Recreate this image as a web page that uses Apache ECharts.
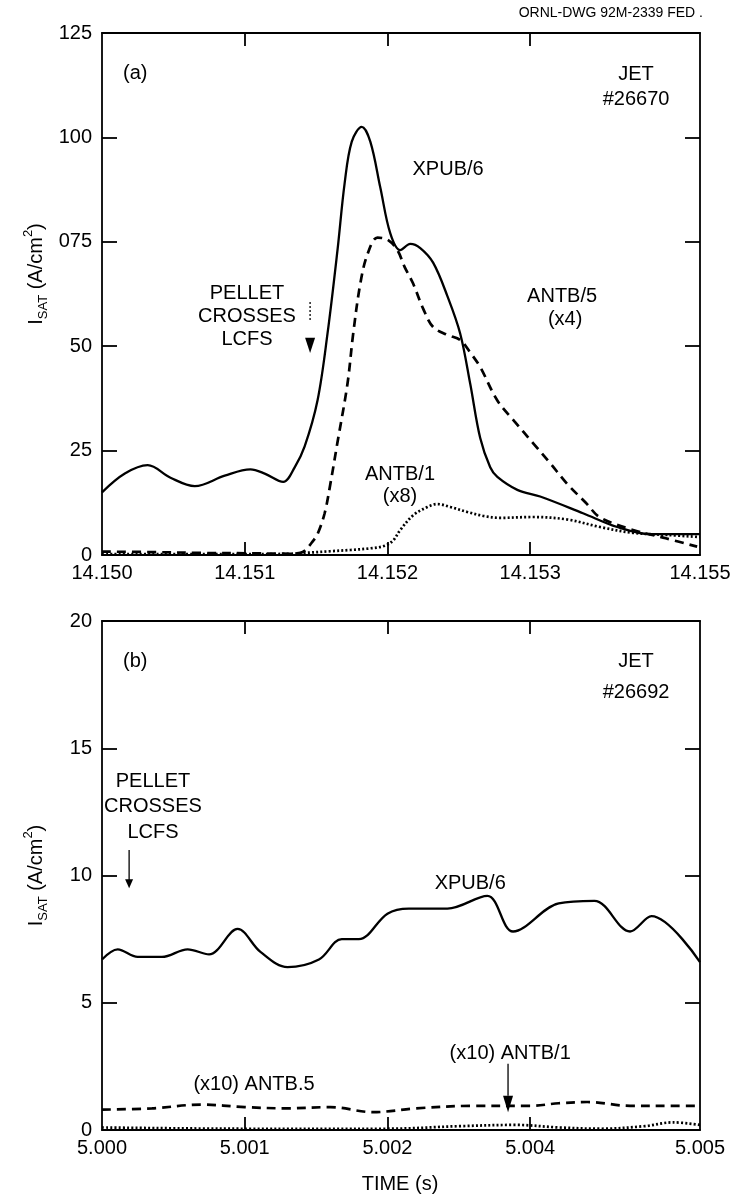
<!DOCTYPE html>
<html><head><meta charset="utf-8">
<script src="https://cdn.jsdelivr.net/npm/echarts@6/dist/echarts.min.js"></script>
<style>html,body{margin:0;padding:0;background:#fff}#c{width:737px;height:1201px}</style>
</head><body><div id="c"></div>
<script>
// ---------- Panel (a): JET #26670 ----------
const timeA_xpub = [14.15000,14.15016,14.15032,14.15048,14.15065,14.15086,14.15104,14.15114,14.15127,14.15135,14.15142,14.15151,14.15158,14.15165,14.15170,14.15175,14.15182,14.15188,14.15195,14.15202,14.15209,14.15216,14.15223,14.15232,14.15242,14.15251,14.15258,14.15265,14.15272,14.15277,14.15291,14.15307,14.15337,14.15361,14.15384,14.15419];
const xpubA = [15,19.5,21.5,18.5,16.5,19,20.5,19.5,17.5,21,26,37,53,73,89,99,102.5,99,88,77,73,74.5,73.5,70,62,53,41,28,21,18.7,15.6,14,10,6.7,5,5];
const timeA_antb5 = [14.15000,14.15034,14.15069,14.15104,14.15132,14.15139,14.15142,14.15147,14.15151,14.15156,14.15160,14.15165,14.15172,14.15176,14.15181,14.15186,14.15193,14.15200,14.15207,14.15212,14.15218,14.15225,14.15232,14.15242,14.15251,14.15258,14.15265,14.15277,14.15289,14.15302,14.15314,14.15326,14.15339,14.15349,14.15372,14.15395,14.15417];
const antb5A = [0.8,0.7,0.5,0.4,0.3,0.5,1,3,5,10,17,27,41,53,65,72,76,75.5,73,69,65,59,54.6,52.7,51.5,48.5,45,37,32,26.8,22,17,12.5,9,6,4,2];
const timeA_antb1 = [14.15000,14.15104,14.15132,14.15142,14.15160,14.15174,14.15188,14.15198,14.15204,14.15209,14.15218,14.15228,14.15235,14.15244,14.15256,14.15268,14.15279,14.15302,14.15326,14.15349,14.15372,14.15396,14.15419];
const antb1A = [0.2,0.2,0.3,0.5,0.9,1.2,1.6,2.2,3.5,6,9.5,11.5,12.2,11.5,10.3,9.3,8.9,9.1,8.5,6.7,5.3,4.8,4.3];

// ---------- Panel (b): JET #26692 ----------
const timeB_xpub = [5.00000,5.00011,5.00025,5.00042,5.00060,5.00075,5.00095,5.00111,5.00130,5.00152,5.00168,5.00180,5.00200,5.00215,5.00242,5.00270,5.00288,5.00320,5.00345,5.00370,5.00385,5.00419];
const xpubB = [6.7,7.1,6.8,6.8,7.1,6.9,7.9,7.0,6.4,6.7,7.5,7.5,8.5,8.7,8.7,9.2,7.8,8.9,9.0,7.8,8.4,6.6];
const timeB_antb5 = [5.00000,5.00035,5.00070,5.00100,5.00130,5.00160,5.00190,5.00220,5.00260,5.00300,5.00320,5.00340,5.00370,5.00400,5.00419];
const antb5B = [0.8,0.85,1.0,0.9,0.85,0.9,0.7,0.85,0.95,0.95,1.05,1.1,0.95,0.95,0.95];
const timeB_antb1 = [5.00000,5.00100,5.00200,5.00250,5.00290,5.00320,5.00350,5.00380,5.00400,5.00419];
const antb1B = [0.1,0.05,0.05,0.15,0.2,0.1,0.05,0.15,0.3,0.2];

// ---------- Axis ticks / labels ----------
const xLabelValsA = [14.150,14.151,14.152,14.153,14.15419];
const xLabelTextA = ['14.150','14.151','14.152','14.153','14.155'];
const xTickValsA = [14.151,14.152,14.153];
const xLabelValsB = [5.000,5.001,5.002,5.003,5.00419];
const xLabelTextB = ['5.000','5.001','5.002','5.004','5.005'];
const xTickValsB = [5.001,5.002,5.003];
const yTicksA = [0,25,50,75,100,125];
const yTextA = ['0','25','50','075','100','125'];
const yTicksB = [0,5,10,15,20];
const yTextB = ['0','5','10','15','20'];

const FONT = 'Liberation Sans, Arial, Helvetica, sans-serif';
const zip = (t, v) => t.map((x, i) => [x, v[i]]);
const lookup = (vals, texts) => (v) => {
  let best = 0, d = Infinity;
  vals.forEach((x, i) => { const dd = Math.abs(x - v); if (dd < d) { d = dd; best = i; } });
  return d < 1e-6 ? texts[best] : '';
};

const chart = echarts.init(document.getElementById('c'), null, {renderer: 'canvas'});
const G = [
  {left: 102, top: 33, width: 598, height: 522},
  {left: 102, top: 621, width: 598, height: 509}
];
const lineStyleAxis = {color: '#000', width: 1.8};
function xAxes(gi, min, max, labVals, labText, tickVals) {
  return [
    {type: 'value', gridIndex: gi, position: 'bottom', min, max,
     axisLine: {show: true, onZero: false, lineStyle: lineStyleAxis},
     axisTick: {show: true, inside: true, length: 13, customValues: tickVals, lineStyle: lineStyleAxis},
     axisLabel: {show: true, customValues: labVals, formatter: lookup(labVals, labText), color: '#000', fontSize: 20, fontFamily: FONT, margin: 8},
     splitLine: {show: false}},
    {type: 'value', gridIndex: gi, position: 'top', min, max,
     axisLine: {show: true, onZero: false, lineStyle: lineStyleAxis},
     axisTick: {show: true, inside: true, length: 13, customValues: tickVals, lineStyle: lineStyleAxis},
     axisLabel: {show: false}, splitLine: {show: false}}
  ];
}
function yAxes(gi, max, interval, ticks, texts) {
  return [
    {type: 'value', gridIndex: gi, position: 'left', min: 0, max, interval,
     axisLine: {show: true, onZero: false, lineStyle: lineStyleAxis},
     axisTick: {show: true, inside: true, length: 15, lineStyle: lineStyleAxis},
     axisLabel: {show: true, formatter: lookup(ticks, texts), color: '#000', fontSize: 20, fontFamily: FONT, margin: 10},
     splitLine: {show: false}},
    {type: 'value', gridIndex: gi, position: 'right', min: 0, max, interval,
     axisLine: {show: true, onZero: false, lineStyle: lineStyleAxis},
     axisTick: {show: true, inside: true, length: 15, lineStyle: lineStyleAxis},
     axisLabel: {show: false}, splitLine: {show: false}}
  ];
}
const solid = {color: '#000', width: 2.3, type: 'solid'};
const dashed = {color: '#000', width: 2.7, type: [9, 6]};
const dotted = {color: '#000', width: 2.7, type: [2, 2.2]};
function ser(xi, yi, data, ls) {
  return {type: 'line', xAxisIndex: xi, yAxisIndex: yi, data, smooth: 0.35, showSymbol: false, symbol: 'none',
          lineStyle: ls, silent: true, animation: false, clip: true};
}

chart.setOption({
  animation: false,
  backgroundColor: '#fff',
  grid: G,
  xAxis: [...xAxes(0, 14.150, 14.15419, xLabelValsA, xLabelTextA, xTickValsA),
          ...xAxes(1, 5.000, 5.00419, xLabelValsB, xLabelTextB, xTickValsB)],
  yAxis: [...yAxes(0, 125, 25, yTicksA, yTextA), ...yAxes(1, 20, 5, yTicksB, yTextB)],
  series: [
    ser(0, 0, zip(timeA_xpub, xpubA), solid),
    ser(0, 0, zip(timeA_antb5, antb5A), dashed),
    ser(0, 0, zip(timeA_antb1, antb1A), dotted),
    ser(2, 2, zip(timeB_xpub, xpubB), solid),
    ser(2, 2, zip(timeB_antb5, antb5B), dashed),
    ser(2, 2, zip(timeB_antb1, antb1B), dotted)
  ]
});

// ---------- Annotations (anchored in data coordinates) ----------
const annA = [
  {t: '(a)', x: 14.150147, y: 115.4, align: 'left'},
  {t: 'JET', x: 14.153742, y: 115.0},
  {t: '#26670', x: 14.153742, y: 109.0},
  {t: 'XPUB/6', x: 14.152425, y: 92.2},
  {t: 'PELLET', x: 14.151016, y: 62.7},
  {t: 'CROSSES', x: 14.151016, y: 57.0},
  {t: 'LCFS', x: 14.151016, y: 51.5},
  {t: 'ANTB/5', x: 14.153224, y: 62.0},
  {t: '(x4)', x: 14.153245, y: 56.3},
  {t: 'ANTB/1', x: 14.152088, y: 19.2},
  {t: '(x8)', x: 14.152088, y: 13.9}
];
const annB = [
  {t: '(b)', x: 5.000147, y: 18.4, align: 'left'},
  {t: 'JET', x: 5.003742, y: 18.4},
  {t: '#26692', x: 5.003742, y: 17.2},
  {t: 'PELLET', x: 5.000357, y: 13.7},
  {t: 'CROSSES', x: 5.000357, y: 12.7},
  {t: 'LCFS', x: 5.000357, y: 11.7},
  {t: 'XPUB/6', x: 5.00258, y: 9.7},
  {t: '(x10) ANTB.5', x: 5.001065, y: 1.8},
  {t: '(x10) ANTB/1', x: 5.00286, y: 3.0}
];
const px = (gi, x, y) => chart.convertToPixel({gridIndex: gi}, [x, y]);
const gfx = [];
function addText(gi, a) {
  const p = px(gi, a.x, a.y);
  gfx.push({type: 'text', x: p[0], y: p[1], silent: true,
    style: {text: a.t, font: '20px ' + FONT, fill: '#000', textAlign: a.align || 'center', textVerticalAlign: 'middle'}});
}
annA.forEach(a => addText(0, a));
annB.forEach(a => addText(1, a));

// pellet marker panel (a): dotted stem + filled down triangle
(function () {
  const p1 = px(0, 14.151458, 60.6), p2 = px(0, 14.151458, 55.8);
  gfx.push({type: 'line', silent: true, shape: {x1: p1[0], y1: p1[1], x2: p2[0], y2: p2[1]},
            style: {stroke: '#000', lineWidth: 1.3, lineDash: [2, 2]}});
  const t1 = px(0, 14.151458, 52.0), t2 = px(0, 14.151458, 48.4);
  gfx.push({type: 'polygon', silent: true, shape: {points: [[t1[0] - 5, t1[1]], [t1[0] + 5, t1[1]], [t2[0], t2[1]]]},
            style: {fill: '#000'}});
})();
// pellet arrow panel (b) and ANTB/1 pointer
(function () {
  const a1 = px(1, 5.00019, 11.0), a2 = px(1, 5.00019, 9.5);
  gfx.push({type: 'line', silent: true, shape: {x1: a1[0], y1: a1[1], x2: a2[0], y2: a2[1] - 6},
            style: {stroke: '#000', lineWidth: 1.3}});
  gfx.push({type: 'polygon', silent: true, shape: {points: [[a2[0] - 4, a2[1] - 9], [a2[0] + 4, a2[1] - 9], [a2[0], a2[1]]]},
            style: {fill: '#000'}});
  const b1 = px(1, 5.002845, 2.6), b2 = px(1, 5.002845, 1.35), b3 = px(1, 5.002845, 0.7);
  gfx.push({type: 'line', silent: true, shape: {x1: b1[0], y1: b1[1], x2: b2[0], y2: b2[1]},
            style: {stroke: '#000', lineWidth: 1.3}});
  gfx.push({type: 'polygon', silent: true, shape: {points: [[b2[0] - 5, b2[1]], [b2[0] + 5, b2[1]], [b3[0], b3[1]]]},
            style: {fill: '#000'}});
})();
// y axis names
const yName = '{a|I}{b|SAT}{a| (A/cm}{c|2}{a|)}';
const yRich = {
  a: {font: '20px ' + FONT, fill: '#000', lineHeight: 28, verticalAlign: 'middle'},
  b: {font: '13px ' + FONT, fill: '#000', lineHeight: 14, verticalAlign: 'bottom'},
  c: {font: '13px ' + FONT, fill: '#000', lineHeight: 14, verticalAlign: 'top'}
};
const yc0 = px(0, 14.150, 62.5)[1], yc1 = px(1, 5.000, 10)[1];
gfx.push({type: 'text', x: 36, y: yc0 - 20, rotation: Math.PI / 2, silent: true,
  style: {text: yName, rich: yRich, textAlign: 'center', textVerticalAlign: 'middle'}});
gfx.push({type: 'text', x: 36, y: yc1, rotation: Math.PI / 2, silent: true,
  style: {text: yName, rich: yRich, textAlign: 'center', textVerticalAlign: 'middle'}});
// x axis name and drawing number
gfx.push({type: 'text', x: 400, y: 1184, silent: true,
  style: {text: 'TIME (s)', font: '20px ' + FONT, fill: '#000', textAlign: 'center', textVerticalAlign: 'middle'}});
gfx.push({type: 'text', x: 703, y: 13, silent: true,
  style: {text: 'ORNL-DWG 92M-2339 FED .', font: '14px ' + FONT, fill: '#000', textAlign: 'right', textVerticalAlign: 'middle'}});

chart.setOption({graphic: gfx});
</script></body></html>
